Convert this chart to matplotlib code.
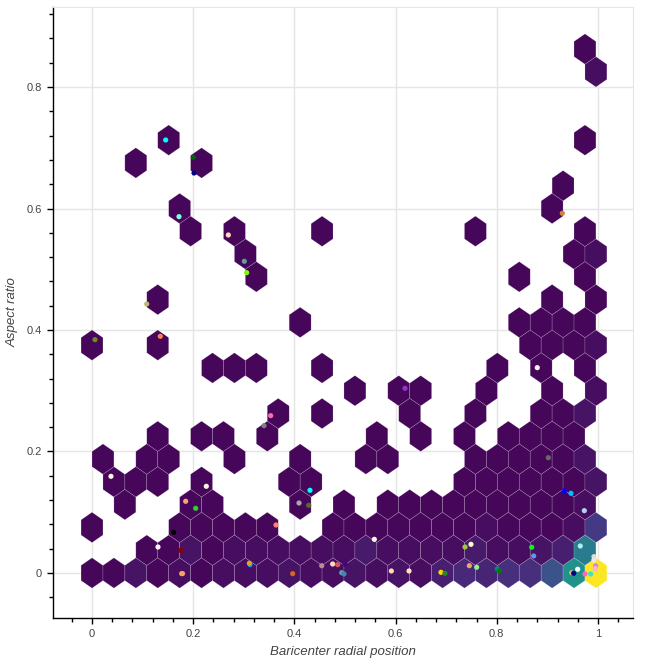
import numpy as np
import matplotlib
matplotlib.use("Agg")
import matplotlib.pyplot as plt
from matplotlib.colors import Normalize
from matplotlib.ticker import MultipleLocator

plt.rcParams['font.family'] = ['Liberation Sans', 'DejaVu Sans']

# hex tile size (pointy top), same in both data units
hex_size = 0.025

# tiles: column in half hex widths, row in 1.5*size steps, and bin count
tile_col = [
    0, 2, 4, 6, 8, 10, 12, 14, 16, 18, 20, 22, 24, 26, 28, 30, 32, 34, 36, 38, 40, 42, 44, 46,
    5, 7, 9, 11, 13, 15, 17, 19, 21, 23, 25, 27, 29, 31, 33, 35, 37, 39, 41, 43, 45,
    0, 8, 10, 12, 14, 16, 22, 24, 26, 28, 30, 32, 34, 36, 38, 40, 42, 44, 46,
    3, 9, 11, 19, 23, 27, 29, 31, 33, 35, 37, 39, 41, 43, 45,
    2, 4, 6, 10, 18, 20, 34, 36, 38, 40, 42, 44, 46,
    1, 5, 7, 13, 19, 25, 27, 35, 37, 39, 41, 43, 45,
    6, 10, 12, 16, 26, 30, 34, 38, 40, 42, 44,
    17, 21, 29, 35, 41, 43, 45,
    24, 28, 30, 36, 42, 46,
    11, 13, 15, 21, 37, 41, 45,
    0, 6, 40, 42, 44, 46,
    19, 39, 41, 43, 45,
    6, 42, 46,
    15, 39, 45,
    14, 44, 46,
    9, 13, 21, 35, 45,
    8, 42,
    43,
    4, 10,
    7, 45,
    46,
    45,
]
tile_row = ([0] * 24 + [1] * 21 + [2] * 19 + [3] * 15 + [4] * 13 + [5] * 13 + [6] * 11
            + [7] * 7 + [8] * 6 + [9] * 7 + [10] * 6 + [11] * 5 + [12] * 3 + [13] * 3
            + [14] * 3 + [15] * 5 + [16] * 2 + [17] * 1 + [18] * 2 + [19] * 2
            + [22] * 1 + [23] * 1)
tile_count = [
    1, 1, 3, 1, 2, 1, 2, 2, 2, 3, 2, 2, 3, 2, 3, 2, 5, 7, 6, 8, 8, 15, 30, 60,
    1, 1, 3, 1, 2, 2, 2, 2, 2, 2, 4, 2, 2, 2, 2, 4, 2, 2, 3, 5, 25,
    1, 1, 1, 1, 1, 1, 1, 1, 1, 1, 1, 1, 1, 2, 1, 1, 1, 2, 10,
    1, 1, 1, 1, 1, 1, 1, 1, 1, 1, 1, 1, 1, 1, 2,
    1, 1, 1, 1, 1, 1, 1, 1, 1, 1, 1, 1, 3,
    1, 1, 1, 1, 1, 1, 1, 1, 1, 1, 1, 1, 3,
    1, 1, 1, 1, 1, 1, 1, 1, 1, 1, 1,
    1, 1, 1, 1, 1, 1, 3,
    1, 1, 1, 1, 1, 2,
    1, 1, 1, 1, 1, 1, 1,
    1, 1, 1, 1, 1, 2,
    1, 1, 1, 1, 1,
    1, 1, 1,
    1, 1, 1,
    1, 1, 2,
    1, 1, 1, 1, 1,
    1, 1,
    1,
    1, 1,
    1, 1,
    2,
    1,
]

# individual objects drawn on top
dot_x = [0.1456, 0.2002, 0.2016, 0.1719, 0.2694, 0.3010, 0.3057, 0.1081, 0.9295, 0.0059,
         0.1350, 0.6186, 0.3531, 0.3399, 0.8800, 0.9018, 0.0375, 0.2259, 0.4308, 0.9335,
         0.9466, 0.1851, 0.4091, 0.4282, 0.2049, 0.9730, 0.3636, 0.1614, 0.5580, 0.7490,
         0.7372, 0.9650, 0.8690, 0.1304, 0.1752, 0.8729, 0.9920, 0.9920, 0.3123, 0.3109,
         0.4540, 0.4756, 0.4855, 0.5000, 0.4934, 0.4980, 0.3966, 0.1790, 0.1772, 0.5916,
         0.6265, 0.6897, 0.6976, 0.7457, 0.7602, 0.8010, 0.8043, 0.9954, 0.9950, 0.9940,
         0.9480, 0.9520, 0.9599, 0.9743, 0.9855]
dot_y = [0.7128, 0.6843, 0.6584, 0.5866, 0.5564, 0.5131, 0.4944, 0.4428, 0.5921, 0.3841,
         0.3896, 0.3040, 0.2590, 0.2425, 0.3380, 0.1898, 0.1591, 0.1427, 0.1361, 0.1350,
         0.1312, 0.1180, 0.1152, 0.1114, 0.1065, 0.1026, 0.0790, 0.0670, 0.0554, 0.0472,
         0.0428, 0.0444, 0.0423, 0.0428, 0.0373, 0.0280, 0.0269, 0.0214, 0.0137, 0.0160,
         0.0120, 0.0148, 0.0137, 0.0148, 0.0005, -0.0016, -0.0011, -0.0010, -0.0010, 0.0033,
         0.0033, 0.0011, -0.0005, 0.0120, 0.0094, 0.0066, 0.0033, 0.0115, 0.0088, 0.0066,
         0.0005, -0.0005, 0.0061, -0.0016, -0.0016]
dot_color = ['cyan', 'darkgreen', 'darkblue', 'aquamarine', 'peachpuff', 'cadetblue',
             'lawngreen', 'darkkhaki', 'peru', 'olivedrab', 'coral', 'darkorchid', 'hotpink',
             'gray', 'oldlace', 'dimgray', 'linen', 'beige', 'cyan', 'blue', 'deepskyblue',
             'lightsalmon', 'darkgray', 'darkolivegreen', 'limegreen', 'lightblue', 'salmon',
             'black', 'oldlace', 'lemonchiffon', 'yellowgreen', 'paleturquoise', 'lime',
             'seashell', 'darkred', 'cornflowerblue', 'gainsboro', 'lavender', 'dodgerblue',
             'goldenrod', 'rosybrown', 'peachpuff', 'indianred', 'indigo', 'cadetblue',
             'steelblue', 'chocolate', 'darksalmon', 'sandybrown', 'peachpuff', 'bisque',
             'gold', 'forestgreen', 'sandybrown', 'lightgreen', 'darkcyan', 'green', 'orchid',
             'plum', 'lightpink', 'tan', 'navy', 'white', 'hotpink', 'turquoise']

x_ticks = [0, 0.2, 0.4, 0.6, 0.8, 1]
x_labels = ['0', '0.2', '0.4', '0.6', '0.8', '1']
y_ticks = [0, 0.2, 0.4, 0.6, 0.8]
y_labels = ['0', '0.2', '0.4', '0.6', '0.8']

# tile centres on the hex lattice
hw = np.sqrt(3) * hex_size / 2
tx = np.array(tile_col) * hw
ty = np.array(tile_row) * 1.5 * hex_size

sx = 2 * hw
sy = 3 * hex_size

fig = plt.figure(figsize=(6.66, 6.66), dpi=100)
ax = fig.add_axes([53 / 666, 48 / 666, 580 / 666, 611 / 666])

ax.hexbin(tx, ty, C=tile_count, reduce_C_function=np.sum,
          gridsize=(28, 13), extent=(-2 * sx, 26 * sx, -sy, 12 * sy),
          cmap='viridis', norm=Normalize(0, max(tile_count)),
          edgecolors=(1, 1, 1, 0.25), linewidths=0.4, zorder=2)

ax.scatter(dot_x, dot_y, c=dot_color, s=14, linewidths=0, zorder=3)

ax.set_xlim(-0.0771, 1.0692)
ax.set_ylim(-0.0741, 0.9317)

ax.set_xticks(x_ticks, x_labels)
ax.set_yticks(y_ticks, y_labels)
ax.xaxis.set_minor_locator(MultipleLocator(0.04))
ax.yaxis.set_minor_locator(MultipleLocator(0.04))
ax.tick_params(which='major', length=4.5, width=1, color='black',
               labelsize=8, labelcolor='#444444', pad=3.5)
ax.tick_params(which='minor', length=3, width=1, color='black')

ax.grid(True, which='major', color='#e5e5e5', lw=1)
ax.set_axisbelow(True)

for side in ['top', 'right']:
    ax.spines[side].set_color('#e5e5e5')
for side in ['left', 'bottom']:
    ax.spines[side].set_color('black')
    ax.spines[side].set_linewidth(1)

ax.set_xlabel("Baricenter radial position", fontstyle='italic', fontsize=9.5,
              color='#444444', labelpad=5)
ax.set_ylabel("Aspect ratio", fontstyle='italic', fontsize=9.5,
              color='#444444', labelpad=6)

fig.savefig("out.png", dpi=100)
